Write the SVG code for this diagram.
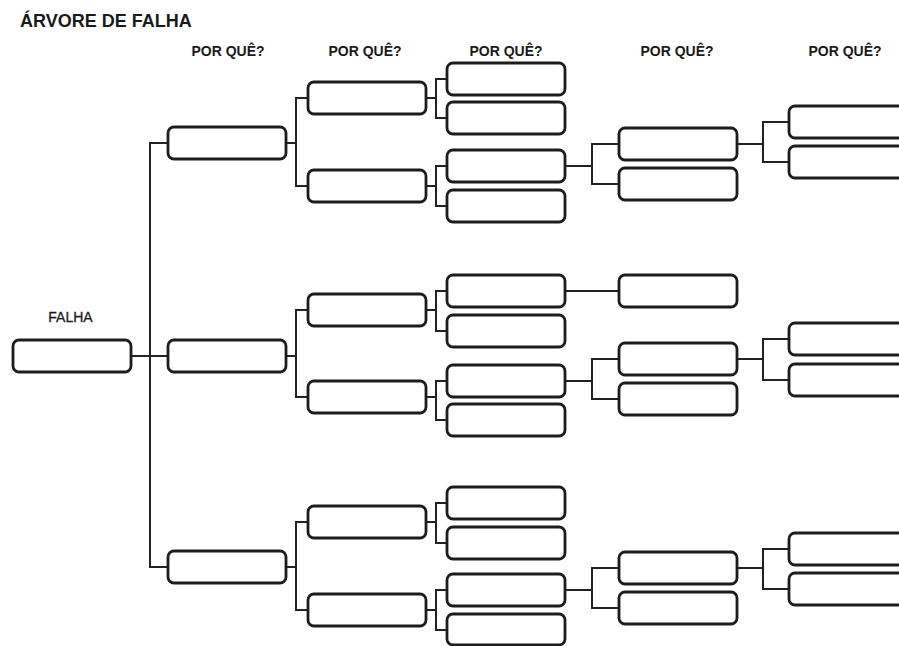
<svg xmlns="http://www.w3.org/2000/svg" width="899" height="646" viewBox="0 0 899 646">
<style>
.b{fill:#fff;stroke:#1c1c1c;stroke-width:2.8}
.c{fill:none;stroke:#222;stroke-width:2}
.t{font-family:"Liberation Sans",Arial,sans-serif;font-weight:bold;fill:#1a1a1a}
.h{font-size:14px;text-anchor:middle}
</style>
<rect width="899" height="646" fill="#fff"/>
<text class="t" x="20" y="27" font-size="18">ÁRVORE DE FALHA</text>
<g class="t h">
<text x="228" y="56">POR QUÊ?</text>
<text x="365" y="56">POR QUÊ?</text>
<text x="506" y="56">POR QUÊ?</text>
<text x="677" y="56">POR QUÊ?</text>
<text x="845" y="56">POR QUÊ?</text>
</g>
<text class="t" x="70.5" y="322" font-size="14" text-anchor="middle" style="font-weight:normal;stroke:#1a1a1a;stroke-width:0.3">FALHA</text>
<g id="connectors" class="c">
<path d="M131 356H168M168 143H150V567H168"/>
<path d="M286 143H296M308 98H296V186H308"/>
<path d="M286 356H296M308 310H296V397H308"/>
<path d="M286 567H296M308 522H296V610H308"/>
<path d="M426 98H436M447 79H436V118H447"/>
<path d="M426 186H436M447 166H436V206H447"/>
<path d="M426 310H436M447 291H436V331H447"/>
<path d="M426 397H436M447 381H436V420H447"/>
<path d="M426 522H436M447 503H436V543H447"/>
<path d="M426 610H436M447 590H436V630H447"/>
<path d="M565 166H592M619 144H592V184H619"/>
<path d="M565 291H619"/>
<path d="M565 381H592M619 359H592V399H619"/>
<path d="M565 590H592M619 568H592V608H619"/>
<path d="M737 144H763M789 122H763V162H789"/>
<path d="M737 359H763M789 339H763V380H789"/>
<path d="M737 568H763M789 549H763V589H789"/>
</g>
<g id="falha"><rect class="b" x="13" y="340" width="118" height="32" rx="6"/></g>
<g id="l1a"><rect class="b" x="168" y="127" width="118" height="32" rx="6"/></g>
<g id="l1b"><rect class="b" x="168" y="340" width="118" height="32" rx="6"/></g>
<g id="l1c"><rect class="b" x="168" y="551" width="118" height="32" rx="6"/></g>
<g id="l2a"><rect class="b" x="308" y="82" width="118" height="32" rx="6"/></g>
<g id="l2b"><rect class="b" x="308" y="170" width="118" height="32" rx="6"/></g>
<g id="l2c"><rect class="b" x="308" y="294" width="118" height="32" rx="6"/></g>
<g id="l2d"><rect class="b" x="308" y="381" width="118" height="32" rx="6"/></g>
<g id="l2e"><rect class="b" x="308" y="506" width="118" height="32" rx="6"/></g>
<g id="l2f"><rect class="b" x="308" y="594" width="118" height="32" rx="6"/></g>
<g id="l3a"><rect class="b" x="447" y="63" width="118" height="32" rx="6"/></g>
<g id="l3b"><rect class="b" x="447" y="102" width="118" height="32" rx="6"/></g>
<g id="l3c"><rect class="b" x="447" y="150" width="118" height="32" rx="6"/></g>
<g id="l3d"><rect class="b" x="447" y="190" width="118" height="32" rx="6"/></g>
<g id="l3e"><rect class="b" x="447" y="275" width="118" height="32" rx="6"/></g>
<g id="l3f"><rect class="b" x="447" y="315" width="118" height="32" rx="6"/></g>
<g id="l3g"><rect class="b" x="447" y="365" width="118" height="32" rx="6"/></g>
<g id="l3h"><rect class="b" x="447" y="404" width="118" height="32" rx="6"/></g>
<g id="l3i"><rect class="b" x="447" y="487" width="118" height="32" rx="6"/></g>
<g id="l3j"><rect class="b" x="447" y="527" width="118" height="32" rx="6"/></g>
<g id="l3k"><rect class="b" x="447" y="574" width="118" height="32" rx="6"/></g>
<g id="l3l"><rect class="b" x="447" y="614" width="118" height="31" rx="6"/></g>
<g id="l4a"><rect class="b" x="619" y="128" width="118" height="32" rx="6"/></g>
<g id="l4b"><rect class="b" x="619" y="168" width="118" height="32" rx="6"/></g>
<g id="l4c"><rect class="b" x="619" y="275" width="118" height="32" rx="6"/></g>
<g id="l4d"><rect class="b" x="619" y="343" width="118" height="32" rx="6"/></g>
<g id="l4e"><rect class="b" x="619" y="383" width="118" height="32" rx="6"/></g>
<g id="l4f"><rect class="b" x="619" y="552" width="118" height="32" rx="6"/></g>
<g id="l4g"><rect class="b" x="619" y="592" width="118" height="32" rx="6"/></g>
<g id="l5a"><rect class="b" x="789" y="106" width="118" height="32" rx="6"/></g>
<g id="l5b"><rect class="b" x="789" y="146" width="118" height="32" rx="6"/></g>
<g id="l5c"><rect class="b" x="789" y="323" width="118" height="32" rx="6"/></g>
<g id="l5d"><rect class="b" x="789" y="364" width="118" height="32" rx="6"/></g>
<g id="l5e"><rect class="b" x="789" y="533" width="118" height="32" rx="6"/></g>
<g id="l5f"><rect class="b" x="789" y="573" width="118" height="32" rx="6"/></g>
</svg>
